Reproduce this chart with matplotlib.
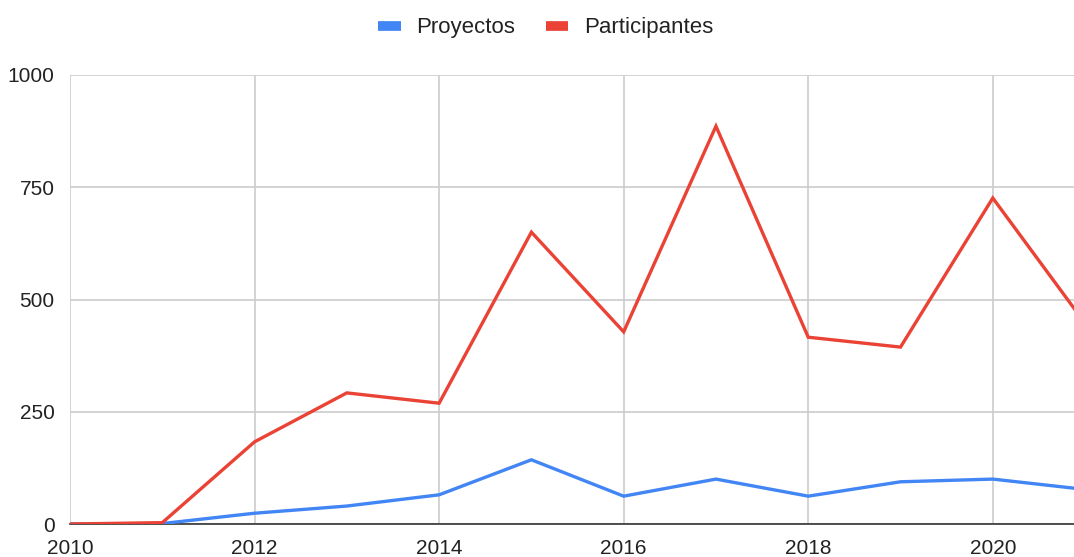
import matplotlib.pyplot as plt
from matplotlib.lines import Line2D

# Datos
anios = [2010, 2011, 2012, 2013, 2014, 2015, 2016, 2017, 2018, 2019, 2020, 2021]
proyectos = [0, 1, 24, 40, 65, 143, 62, 100, 62, 94, 100, 77]
participantes = [0, 3, 183, 292, 269, 650, 428, 886, 416, 394, 726, 447]

azul = '#4285F4'
rojo = '#EA4335'

plt.rcParams['font.family'] = ['Liberation Sans', 'DejaVu Sans']

fig = plt.figure(figsize=(10.74, 5.57), dpi=100)
ax = fig.add_axes([70 / 1074, 1 - 524 / 557, 1 - 70 / 1074, (524 - 75) / 557])

ax.plot(anios, proyectos, color=azul, lw=2.4, solid_joinstyle='miter', zorder=3)
ax.plot(anios, participantes, color=rojo, lw=2.4, solid_joinstyle='miter', zorder=4)

ax.set_xlim(2010, 2020.88)
ax.set_ylim(0, 1000)
ax.set_xticks([2010, 2012, 2014, 2016, 2018, 2020])
ax.set_yticks([0, 250, 500, 750, 1000])
ax.grid(True, color='#cccccc', lw=1.2)
ax.set_axisbelow(True)

for s in ['top', 'right', 'left']:
    ax.spines[s].set_visible(False)
ax.spines['bottom'].set_color('#333333')
ax.spines['bottom'].set_linewidth(1.2)
ax.spines['bottom'].set_zorder(2)

ax.tick_params(axis='both', length=0, labelsize=15, colors='#222222')
ax.tick_params(axis='y', pad=11)
ax.tick_params(axis='x', pad=11)

handles = [Line2D([], [], color=azul, lw=7, solid_capstyle='butt'),
           Line2D([], [], color=rojo, lw=7, solid_capstyle='butt')]
fig.legend(handles, ['Proyectos', 'Participantes'], loc='center',
           bbox_to_anchor=(546 / 1074, 1 - 28 / 557), ncol=2, frameon=False,
           fontsize=16, handlelength=1.0, handletextpad=0.72, columnspacing=1.38,
           labelcolor='#222222')

fig.savefig('out.png', dpi=100)
